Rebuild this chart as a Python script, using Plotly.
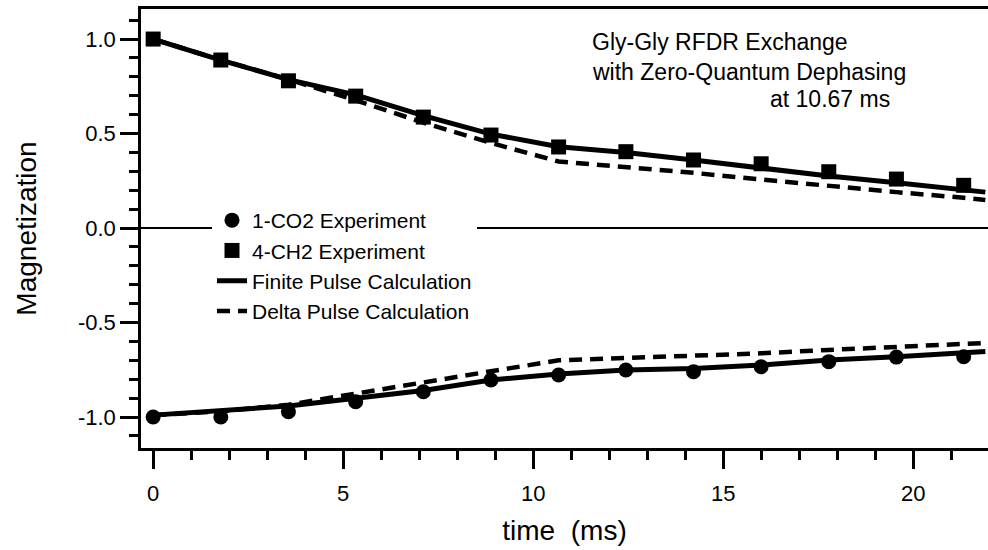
import plotly.graph_objects as go

# ---- data ----
exp_time = [0, 1.78, 3.56, 5.33, 7.11, 8.89, 10.67, 12.44, 14.22, 16.0, 17.78, 19.56, 21.33]
co2_exp = [-1.0, -1.0, -0.972, -0.919, -0.866, -0.804, -0.778, -0.751, -0.76, -0.734, -0.707, -0.683, -0.681]
ch2_exp = [1.0, 0.889, 0.779, 0.698, 0.587, 0.492, 0.429, 0.404, 0.36, 0.34, 0.298, 0.259, 0.226]

calc_time = [0, 1.78, 3.56, 5.33, 7.11, 8.89, 10.67, 12.44, 14.22, 16.0, 17.78, 19.56, 21.33, 21.9]
ch2_finite = [1.0, 0.889, 0.785, 0.705, 0.595, 0.497, 0.43, 0.40, 0.36, 0.318, 0.275, 0.24, 0.203, 0.19]
ch2_delta = [1.0, 0.889, 0.786, 0.676, 0.558, 0.45, 0.352, 0.325, 0.292, 0.257, 0.222, 0.19, 0.16, 0.148]
co2_finite = [-0.99, -0.967, -0.942, -0.901, -0.86, -0.804, -0.772, -0.751, -0.743, -0.725, -0.698, -0.681, -0.661, -0.654]
co2_delta = [-0.99, -0.97, -0.935, -0.878, -0.82, -0.758, -0.70, -0.688, -0.68, -0.663, -0.645, -0.63, -0.615, -0.608]

x_ticks = [0, 5, 10, 15, 20]
x_ticklabels = ["0", "5", "10", "15", "20"]
y_ticks = [-1.0, -0.5, 0.0, 0.5, 1.0]
y_ticklabels = ["-1.0", "-0.5", "0.0", "0.5", "1.0"]

FONT = "Liberation Sans, Arial, Helvetica, sans-serif"

fig = go.Figure()

# calculated curves
fig.add_trace(go.Scatter(x=calc_time, y=ch2_finite, mode="lines", name="Finite Pulse Calculation",
                         line=dict(color="black", width=5), legendgroup="fin", legendrank=3))
fig.add_trace(go.Scatter(x=calc_time, y=co2_finite, mode="lines", name="Finite Pulse Calculation",
                         line=dict(color="black", width=5), legendgroup="fin", showlegend=False))
fig.add_trace(go.Scatter(x=calc_time, y=ch2_delta, mode="lines", name="Delta Pulse Calculation",
                         line=dict(color="black", width=4.5, dash="13px,8px"), legendgroup="del", legendrank=4))
fig.add_trace(go.Scatter(x=calc_time, y=co2_delta, mode="lines", name="Delta Pulse Calculation",
                         line=dict(color="black", width=4.5, dash="13px,8px"), legendgroup="del", showlegend=False))

# experimental points
fig.add_trace(go.Scatter(x=exp_time, y=co2_exp, mode="markers", name="1-CO2 Experiment",
                         marker=dict(symbol="circle", size=15, color="black"), legendgroup="co2", legendrank=1))
fig.add_trace(go.Scatter(x=exp_time, y=ch2_exp, mode="markers", name="4-CH2 Experiment",
                         marker=dict(symbol="square", size=15, color="black"), legendgroup="ch2", legendrank=2))

fig.update_xaxes(
    range=[-0.32, 21.97], showline=True, linecolor="black", linewidth=2.5, mirror=True,
    ticks="outside", ticklen=18, tickwidth=2.5, tickcolor="black",
    tickvals=x_ticks, ticktext=x_ticklabels, ticklabelstandoff=6,
    minor=dict(ticks="outside", dtick=1, tick0=0, ticklen=9, tickwidth=2.5, tickcolor="black"),
    showgrid=False, zeroline=False,
    tickfont=dict(family=FONT, size=22, color="black"),
    title=dict(text="time  (ms)", font=dict(family=FONT, size=28, color="black"), standoff=16),
)
fig.update_yaxes(
    range=[-1.164, 1.159], showline=True, linecolor="black", linewidth=2.5, mirror=False,
    ticks="outside", ticklen=18, tickwidth=2.5, tickcolor="black",
    tickvals=y_ticks, ticktext=y_ticklabels, ticklabelstandoff=0,
    minor=dict(ticks="outside", dtick=0.1, tick0=0, ticklen=9, tickwidth=2.5, tickcolor="black"),
    showgrid=False, zeroline=True, zerolinecolor="black", zerolinewidth=2,
    tickfont=dict(family=FONT, size=22, color="black"),
    title=dict(text="Magnetization", font=dict(family=FONT, size=28, color="black"), standoff=34),
)

ann_font = dict(family=FONT, size=23, color="black")
fig.add_annotation(text="Gly-Gly RFDR Exchange", xref="paper", yref="paper",
                   x=(590 - 141) / 847, y=(448 - 42) / 439, xanchor="left", yanchor="middle",
                   showarrow=False, font=ann_font)
fig.add_annotation(text="with Zero-Quantum Dephasing", xref="paper", yref="paper",
                   x=(590 - 141) / 847, y=(448 - 72) / 439, xanchor="left", yanchor="middle",
                   showarrow=False, font=ann_font)
fig.add_annotation(text="at 10.67 ms", xref="paper", yref="paper",
                   x=(768 - 141) / 847, y=(448 - 99) / 439, xanchor="left", yanchor="middle",
                   showarrow=False, font=ann_font)

fig.update_layout(
    width=988, height=550,
    margin=dict(l=141, r=0, t=9, b=102),
    plot_bgcolor="white", paper_bgcolor="white",
    showlegend=True,
    legend=dict(x=(212 - 141) / 847, y=(448 - 200) / 439, xanchor="left", yanchor="top",
                bgcolor="white", borderwidth=0, font=dict(family=FONT, size=21, color="black"),
                traceorder="normal"),
)

fig.write_html("out.html")
